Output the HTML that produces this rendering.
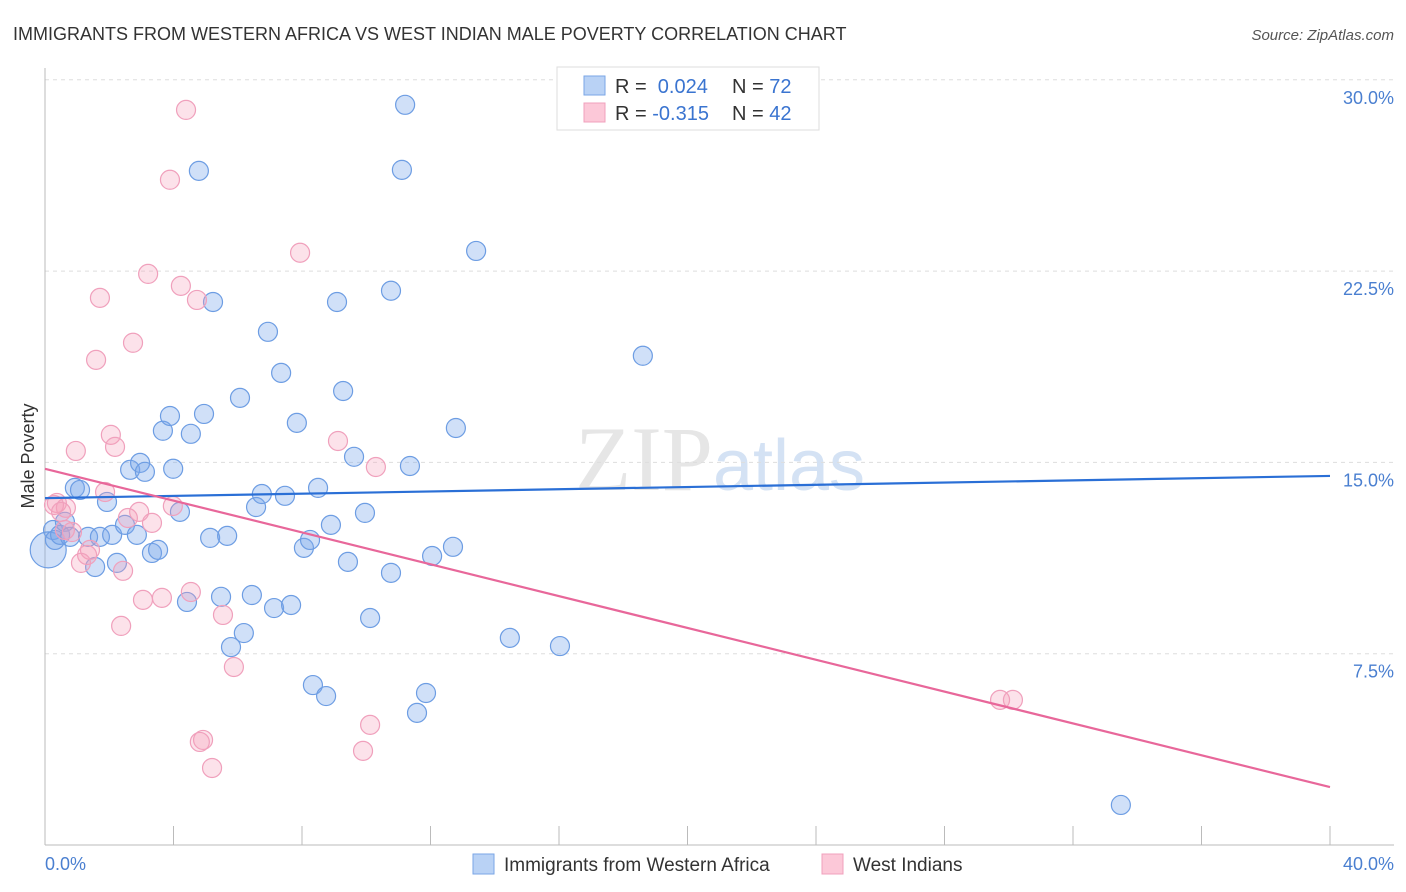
<!DOCTYPE html>
<html><head><meta charset="utf-8"><style>
body{margin:0;background:#fff;font-family:"Liberation Sans",sans-serif;}
svg{display:block}
</style></head><body>
<svg id="chart" width="1406" height="892" viewBox="0 0 1406 892">
<text x="13" y="40" font-size="18" fill="#333">IMMIGRANTS FROM WESTERN AFRICA VS WEST INDIAN MALE POVERTY CORRELATION CHART</text>
<text x="1394" y="40" font-size="15" fill="#555" text-anchor="end" font-style="italic">Source: ZipAtlas.com</text>
<text x="720" y="490" font-size="92" text-anchor="middle" fill="#e6e6e6" font-family="Liberation Serif">ZIP<tspan fill="#d4e2f4" font-family="Liberation Sans" font-size="72">atlas</tspan></text>
<g id="grid"></g>
<g id="axes"></g>
<g id="points"></g>
<g id="trends"></g>
<text transform="translate(34,456) rotate(-90)" font-size="18" fill="#333" text-anchor="middle">Male Poverty</text>
<text x="45" y="870" font-size="18" fill="#4a7fd0">0.0%</text>
<text x="1394" y="870" font-size="18" fill="#4a7fd0" text-anchor="end">40.0%</text>
<g>
<rect x="557" y="67" width="262" height="63" fill="#fff" stroke="#ddd"/>
<rect x="584" y="76" width="21" height="19" fill="#b9d2f5" stroke="#7aa6e6"/>
<rect x="584" y="103" width="21" height="19" fill="#fcc8d8" stroke="#f0a0bc"/>
<text x="615" y="93" font-size="20" fill="#333">R = <tspan fill="#3a74d0">&#160;0.024</tspan></text>
<text x="732" y="93" font-size="20" fill="#333">N = <tspan fill="#3a74d0">72</tspan></text>
<text x="615" y="120" font-size="20" fill="#333">R = <tspan fill="#3a74d0">-0.315</tspan></text>
<text x="732" y="120" font-size="20" fill="#333">N = <tspan fill="#3a74d0">42</tspan></text>
</g>
<g>
<rect x="473" y="854" width="21" height="20" fill="#b9d2f5" stroke="#7aa6e6"/>
<text x="504" y="871" font-size="19" fill="#333">Immigrants from Western Africa</text>
<rect x="822" y="854" width="21" height="20" fill="#fcc8d8" stroke="#f0a0bc"/>
<text x="853" y="871" font-size="19" fill="#333">West Indians</text>
</g>
</svg>
<script>
const yTicks=[7.5,15,22.5,30];
const yTickLabels=["7.5%","15.0%","22.5%","30.0%"];
const xTicks=[0,4,8,12,16,20,24,28,32,36,40];
const blueX=[0.25,0.1,0.31,0.47,0.62,0.78,0.93,1.09,1.34,1.56,1.71,1.93,2.09,2.24,2.49,2.65,2.86,2.96,3.11,3.33,3.52,3.67,3.89,3.99,4.20,4.42,4.54,4.79,4.95,5.14,5.23,5.48,5.67,5.79,6.07,6.19,6.44,6.57,6.75,6.94,7.13,7.35,7.47,7.66,7.84,8.06,8.25,8.34,8.5,8.75,8.9,9.09,9.28,9.43,9.62,9.96,10.12,10.77,10.77,11.11,11.21,11.36,11.58,11.86,12.05,12.7,12.79,13.42,14.47,16.03,18.61,33.49,22.23];
const blueY=[12.35,11.57,11.96,12.16,12.67,12.08,14.0,13.92,12.08,10.9,12.08,13.45,12.16,11.06,12.55,14.71,12.16,14.98,14.63,11.45,11.57,16.24,16.82,14.75,13.06,9.53,16.12,26.43,16.9,12.04,21.29,9.73,12.12,7.76,17.53,8.31,9.8,13.25,13.76,20.12,9.29,18.51,13.69,9.41,16.55,11.65,11.96,6.27,14.0,5.84,12.55,21.29,17.8,11.1,15.22,13.02,8.9,21.73,10.67,26.47,29.02,14.86,5.18,5.96,11.33,11.69,16.35,23.29,8.12,7.8,19.18,1.57,29.02];
const pinkX=[4.39,3.89,7.94,3.21,4.23,1.71,4.73,2.74,1.59,9.12,2.05,2.18,0.96,10.3,1.87,0.37,0.65,0.28,0.5,2.58,3.33,3.98,2.93,0.84,1.4,1.31,1.12,2.43,4.54,3.05,3.64,5.54,2.37,5.88,10.12,4.92,4.82,5.2,9.9,29.73,30.13,0.62];
const pinkY=[28.82,26.08,23.22,22.39,21.92,21.45,21.37,19.69,19.02,15.84,16.08,15.61,15.45,14.82,13.84,13.41,13.22,13.33,13.06,12.82,12.63,13.29,13.06,12.27,11.57,11.37,11.06,10.75,9.92,9.61,9.69,9.02,8.59,6.98,4.71,4.12,4.04,3.02,3.69,5.69,5.69,12.35];
const blueTrend=[13.6,14.47];
const pinkTrend=[14.75,2.27];
const NS="http://www.w3.org/2000/svg";
const X=v=>45+v*(1285/40);
const Y=v=>845-v*(191.3/7.5);
function mk(tag,attrs,parent){const e=document.createElementNS(NS,tag);for(const k in attrs)e.setAttribute(k,attrs[k]);document.getElementById(parent).appendChild(e);return e;}
yTicks.forEach((t,i)=>{
 const l=mk('line',{x1:45,x2:1394,y1:Y(t),y2:Y(t),stroke:'#ddd','stroke-dasharray':'4,4'},'grid');
 
 
 const tx=mk('text',{x:1394,y:Y(t)+24,'font-size':18,fill:'#4a7fd0','text-anchor':'end'},'grid');
 tx.textContent=yTickLabels[i];
 
 
});
const ya=mk('line',{x1:45,x2:45,y1:68,y2:845,stroke:'#bbb'},'axes');


const xa=mk('line',{x1:45,x2:1394,y1:845,y2:845,stroke:'#bbb'},'axes');


xTicks.forEach(t=>{
 const l=mk('line',{x1:X(t),x2:X(t),y1:826,y2:845,stroke:'#bbb'},'axes');
 
 
});
blueX.forEach((v,i)=>{
 const c=mk('circle',{cx:X(v),cy:Y(blueY[i]),r:i===1?18:9.5,fill:'rgba(120,165,235,0.35)',stroke:'#6d9de3','stroke-width':1.2},'points');
 
 
});
pinkX.forEach((v,i)=>{
 const c=mk('circle',{cx:X(v),cy:Y(pinkY[i]),r:9.5,fill:'rgba(245,160,185,0.3)',stroke:'#f0a0bc','stroke-width':1.2},'points');
 
 
});
const bt=mk('line',{x1:X(0),y1:Y(blueTrend[0]),x2:X(40),y2:Y(blueTrend[1]),stroke:'#2a6fd6','stroke-width':2.2},'trends');


const pt=mk('line',{x1:X(0),y1:Y(pinkTrend[0]),x2:X(40),y2:Y(pinkTrend[1]),stroke:'#e8679a','stroke-width':2.2},'trends');


</script>
</body></html>
